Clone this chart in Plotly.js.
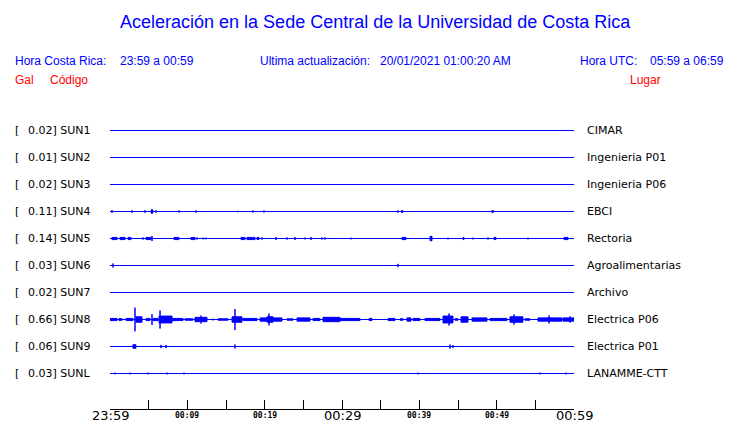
<!DOCTYPE html>
<html>
<head>
<meta charset="utf-8">
<script src="https://cdn.plot.ly/plotly-3.0.1.min.js"></script>
<style>html,body{margin:0;padding:0;background:#fff;}#chart{width:740px;height:423px;}</style>
</head>
<body>
<div id="chart"></div>
<script>
// ---- Data ----
const stationCodes = ['SUN1','SUN2','SUN3','SUN4','SUN5','SUN6','SUN7','SUN8','SUN9','SUNL'];
const peakGal = ['0.02','0.01','0.02','0.11','0.14','0.03','0.02','0.66','0.06','0.03'];
const places = ['CIMAR','Ingenieria P01','Ingenieria P06','EBCI','Rectoria','Agroalimentarias','Archivo','Electrica P06','Electrica P01','LANAMME-CTT'];

// minutes after 23:59 local time
const tickMinutes = [0,5,10,15,20,25,30,35,40,45,50,55,60];
const labelMinutes = [0,10,20,30,40,50,60];
const labelTexts = ['23:59','00:09','00:19','00:29','00:39','00:49','00:59'];
const labelMajor = [true,false,false,true,false,false,true];

// Events per station: [start minute, end minute, amplitude (gal)]
const sun1Events = [];
const sun2Events = [];
const sun3Events = [];
const sun4Events = [
  [0.26,0.26,0.07],[2.84,2.84,0.07],[4.53,4.53,0.07],[5.30,5.56,0.06],[5.43,5.43,0.14],
  [5.95,5.95,0.07],[8.92,8.92,0.06],[11.12,11.12,0.06],[16.55,16.55,0.04],[18.49,18.49,0.06],
  [19.91,19.91,0.06],[37.24,37.24,0.06],[37.70,37.85,0.06],[49.40,49.40,0.06],[49.53,49.53,0.08]
];
const sun5Events = [
  [0.26,0.91,0.06],[1.29,1.94,0.06],[2.33,2.72,0.06],[4.27,4.27,0.06],[4.66,5.30,0.06],
  [5.43,5.43,0.14],[8.28,8.92,0.06],[10.47,10.99,0.06],[11.25,11.25,0.06],[12.03,12.03,0.05],
  [12.41,12.41,0.05],[16.94,17.46,0.06],[17.72,18.75,0.06],[19.01,19.27,0.06],[19.66,19.66,0.06],
  [20.43,20.43,0.03],[20.69,20.69,0.03],[21.47,21.47,0.08],[22.89,22.89,0.06],[23.92,23.92,0.08],
  [25.22,25.22,0.05],[25.99,25.99,0.08],[26.38,26.38,0.03],[27.41,27.41,0.06],[27.80,27.80,0.06],
  [31.16,31.16,0.05],[37.76,38.28,0.06],[41.38,41.64,0.12],[43.71,43.71,0.05],[45.65,45.78,0.06],
  [46.94,46.94,0.05],[48.88,48.88,0.06],[49.66,49.91,0.06],[54.05,54.05,0.05],[56.64,56.64,0.03],
  [58.71,59.22,0.06]
];
const sun6Events = [[0.39,0.39,0.11],[37.24,37.24,0.09]];
const sun7Events = [];
const sun8Events = [
  [0.00,0.91,0.06],[1.16,1.42,0.05],[1.55,1.55,0.06],[2.07,2.97,0.06],[3.23,3.23,0.66],
  [3.36,4.14,0.15],[4.66,5.17,0.06],[5.43,5.43,0.30],[5.56,6.21,0.06],[6.47,6.47,0.50],
  [6.34,8.02,0.19],[8.02,9.44,0.06],[9.70,10.73,0.04],[10.99,12.54,0.12],[11.77,11.77,0.22],
  [13.32,13.32,0.05],[13.97,15.26,0.04],[15.78,17.07,0.15],[16.16,16.16,0.58],[17.20,19.01,0.06],
  [19.40,20.30,0.09],[20.30,21.08,0.15],[20.56,20.56,0.33],[21.08,22.24,0.09],[22.89,23.66,0.04],
  [24.18,25.86,0.09],[26.25,27.16,0.06],[27.54,29.74,0.12],[29.74,32.33,0.06],[33.49,33.88,0.06],
  [35.95,36.85,0.06],[37.50,37.89,0.04],[38.40,38.92,0.09],[39.18,40.09,0.06],[40.73,42.67,0.06],
  [43.06,44.35,0.19],[43.84,43.84,0.33],[44.61,45.00,0.04],[45.39,46.29,0.15],[46.81,48.75,0.09],
  [49.14,51.34,0.06],[51.72,53.40,0.15],[52.24,52.24,0.28],[53.66,54.31,0.04],[55.34,58.45,0.09],
  [56.77,56.77,0.22],[58.58,60.00,0.09],[59.48,59.48,0.17]
];
const sun9Events = [[2.97,3.36,0.10],[6.59,6.59,0.09],[7.24,7.24,0.09],[16.16,16.16,0.11],[43.97,43.97,0.11],[44.35,44.35,0.08]];
const sunlEvents = [[0.65,0.65,0.05],[2.59,2.59,0.05],[4.91,4.91,0.05],[7.37,7.37,0.05],[9.57,9.57,0.05],[39.83,39.83,0.05],[55.60,55.60,0.05],[58.96,58.96,0.05]];

const stationEvents = [sun1Events,sun2Events,sun3Events,sun4Events,sun5Events,sun6Events,sun7Events,sun8Events,sun9Events,sunlEvents];

// ---- Styles / geometry ----
const BLUE = '#0000ff';
const RED = '#ff0000';
const ampScale = 0.667; // y units per gal
const plotTop = 103, plotBottom = 409, plotLeft = 110, plotRight = 574;
const px2paperX = px => (px - plotLeft) / (plotRight - plotLeft);
const px2paperY = py => (plotBottom - py) / (plotBottom - plotTop);
const halfPx = 0.5 / 27;

const traces = [];
stationCodes.forEach((code, i) => {
  const yRow = 9 - i;
  traces.push({x:[0,60], y:[yRow,yRow], mode:'lines', line:{color:BLUE,width:1}, hoverinfo:'skip'});
  const ev = stationEvents[i];
  if (ev.length) {
    const xs = [], ys = [];
    ev.forEach(([t0,t1,a]) => {
      const h = a * ampScale;
      xs.push(t0,t0,t1,t1,t0,null);
      ys.push(yRow-h,yRow+h,yRow+h,yRow-h,yRow-h,null);
    });
    traces.push({x:xs, y:ys, mode:'lines', fill:'toself', fillcolor:BLUE, line:{color:BLUE,width:1}, connectgaps:false, hoverinfo:'skip'});
  }
});

const ann = [];
const txt = (text, px, py, size, color, family, anchor) => ann.push({
  text, xref:'paper', yref:'paper', x:px2paperX(px), y:px2paperY(py),
  xanchor:anchor||'left', yanchor:'middle', showarrow:false, borderpad:0, borderwidth:0,
  font:{size, color, family}
});
const SANS = 'Liberation Sans, Arial, sans-serif';
const DJV = 'DejaVu Sans, sans-serif';

// header
txt('Hora Costa Rica:', 15, 61, 12, BLUE, SANS);
txt('23:59 a 00:59', 120, 61, 12, BLUE, SANS);
txt('Ultima actualización:', 260, 61, 12, BLUE, SANS);
txt('20/01/2021 01:00:20 AM', 380, 61, 12, BLUE, SANS);
txt('Hora UTC:', 580, 61, 12, BLUE, SANS);
txt('05:59 a 06:59', 650, 61, 12, BLUE, SANS);
txt('Gal', 15, 80, 12, RED, SANS);
txt('Código', 50, 80, 12, RED, SANS);
txt('Lugar', 630, 80, 12, RED, SANS);

// row labels
stationCodes.forEach((code, i) => {
  const py = 130 + 27 * i;
  txt('[', 15, py, 11, '#000', DJV);
  txt(peakGal[i] + '] ' + code, 28, py, 11, '#000', DJV);
  txt(places[i], 587, py, 11, '#000', DJV);
});

// time labels
labelMinutes.forEach((m, i) => {
  ann.push({
    text: labelTexts[i], xref:'x', yref:'paper', x:m, y:px2paperY(labelMajor[i] ? 415.5 : 415.5),
    xanchor:'center', yanchor:'middle', showarrow:false, borderpad:0, borderwidth:0,
    font: labelMajor[i] ? {size:13, color:'#000', family:DJV} : {size:8, color:'#000', family:'DejaVu Sans Mono, monospace', weight:'bold'}
  });
});

const layout = {
  width:740, height:423,
  margin:{l:plotLeft, r:740-plotRight, t:plotTop, b:423-plotBottom, pad:0},
  paper_bgcolor:'#fff', plot_bgcolor:'#fff',
  showlegend:false, hovermode:false,
  title:{text:'Aceleración en la Sede Central de la Universidad de Costa Rica', x:0.507, xanchor:'center', y:0.948, yanchor:'middle', font:{size:18, color:BLUE, family:SANS}},
  xaxis:{range:[0,60], tickvals:tickMinutes, showticklabels:false, ticks:'inside', ticklen:9, tickwidth:1, tickcolor:'#000',
         showline:true, linecolor:'#000', linewidth:1, showgrid:false, zeroline:false, fixedrange:true, automargin:false},
  yaxis:{range:[-1.333 + halfPx, 10 + halfPx], visible:false, showgrid:false, zeroline:false, fixedrange:true},
  annotations: ann
};

Plotly.newPlot('chart', traces, layout, {staticPlot:true, displayModeBar:false});
</script>
</body>
</html>
